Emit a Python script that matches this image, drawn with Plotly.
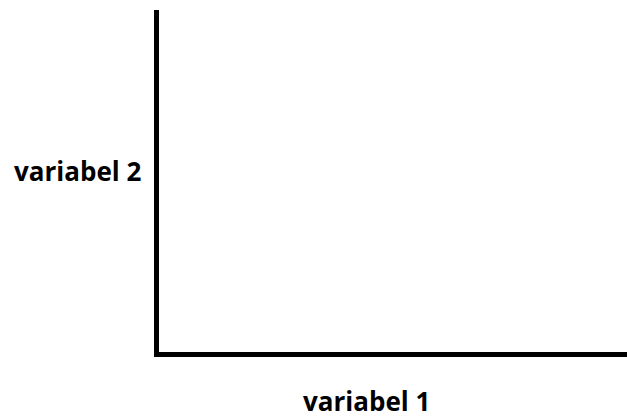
import plotly.graph_objects as go

x_label = "variabel 1"
y_label = "variabel 2"
x_values = []
y_values = []

fig = go.Figure()
fig.add_trace(go.Scatter(x=x_values, y=y_values, mode="markers", showlegend=False))

fig.update_layout(
    width=627, height=418,
    margin=dict(l=159, r=0, t=10, b=66),
    paper_bgcolor="white", plot_bgcolor="white",
    font=dict(family="Open Sans", color="black"),
    xaxis=dict(showline=True, linecolor="black", linewidth=5, showgrid=False,
               zeroline=False, showticklabels=False, ticks="", range=[0, 1], fixedrange=True),
    yaxis=dict(showline=True, linecolor="black", linewidth=5, showgrid=False,
               zeroline=False, showticklabels=False, ticks="", range=[0, 1], fixedrange=True),
    annotations=[
        dict(text="<b>" + x_label + "</b>", xref="paper", yref="paper", x=0.443, y=0,
             yshift=-49, xanchor="center", yanchor="middle", showarrow=False,
             font=dict(size=26, family="Open Sans", color="black")),
        dict(text="<b>" + y_label + "</b>", xref="paper", yref="paper", x=0, y=0.528,
             xshift=-16, xanchor="right", yanchor="middle", showarrow=False,
             font=dict(size=26, family="Open Sans", color="black")),
    ],
)

fig.write_html(
    "out.html",
    config={"displayModeBar": False, "staticPlot": True},
    post_script="document.body.style.margin='0';document.body.style.overflow='hidden';",
)
